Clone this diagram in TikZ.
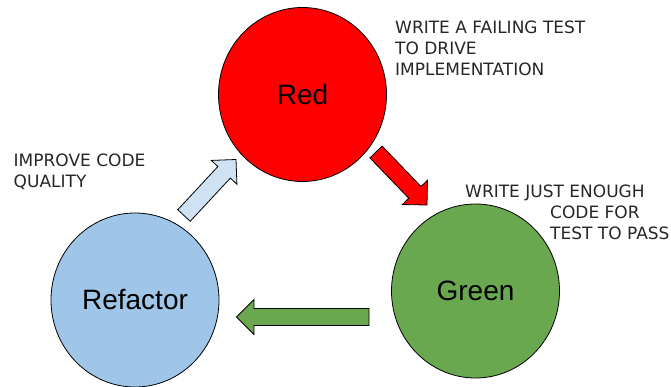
\documentclass[tikz,border=0pt]{standalone}
\usepackage{fontspec}
\setmainfont{DejaVu Sans}
\newfontfamily\arialfont{Liberation Sans}
\usepackage{xcolor}
\usetikzlibrary{calc}
\usetikzlibrary{shapes.geometric}

\definecolor{tddred}{HTML}{FF0000}
\definecolor{tddgreen}{HTML}{6AA84F}
\definecolor{tddblue}{HTML}{9FC5E8}
\definecolor{tddpale}{HTML}{CFE2F3}

% fat arrow: #1 fill, #2 tail, #3 tip
\newcommand{\fatarrow}[3]{%
	\coordinate (hb) at ($(#3)!17.5pt!(#2)$);
	\draw[fatarrow, fill=#1] ($(#2)!8.5pt!90:(#3)$) -- ($(hb)!8.5pt!90:(#3)$) -- ($(hb)!17.5pt!90:(#3)$)
		-- (#3) -- ($(hb)!17.5pt!-90:(#3)$) -- ($(hb)!8.5pt!-90:(#3)$) -- ($(#2)!8.5pt!-90:(#3)$) -- cycle;
}

\begin{document}
\begin{tikzpicture}[x=1pt, y=-1pt,
			phase/.style = {ellipse, draw, line width=0.8pt, minimum width=168pt, minimum height=174pt, inner sep=0pt, font=\arialfont\fontsize{28}{34}\selectfont},
			note/.style = {anchor=north west, inner sep=0pt, align=left, text=black!85, font=\fontsize{17}{21}\selectfont},
			fatarrow/.style = {draw, line width=0.8pt, line join=miter}
			]
			\path[use as bounding box] (0,0) rectangle (671,387);
			
			\node[phase, fill=tddred] (red) at (302.5,94.5) {Red};
			\node[phase, fill=tddgreen] (green) at (475.5,291) {Green};
			\node[phase, fill=tddblue] (refactor) at (135,300) {Refactor};
			
			\node[note] (failing) at (395,21) {WRITE A FAILING TEST\\TO DRIVE\\IMPLEMENTATION};
			\node[note] (enough) at (465,185) {WRITE JUST ENOUGH\\\hspace*{85pt}CODE FOR\\\hspace*{85pt}TEST TO PASS};
			\node[note] (improve) at (13.5,153.5) {IMPROVE CODE\\QUALITY};
			
			% arrow ends, between the circles
			\coordinate (redtail) at (376,152);
			\coordinate (redtip) at (427,205);
			\coordinate (greentail) at (369,317);
			\coordinate (greentip) at (236.5,317);
			\coordinate (bluetail) at (184,215.5);
			\coordinate (bluetip) at (236,159.5);
			
			\fatarrow{tddred}{redtail}{redtip}
			\fatarrow{tddgreen}{greentail}{greentip}
			\fatarrow{tddpale}{bluetail}{bluetip}
		\end{tikzpicture}
\end{document}
